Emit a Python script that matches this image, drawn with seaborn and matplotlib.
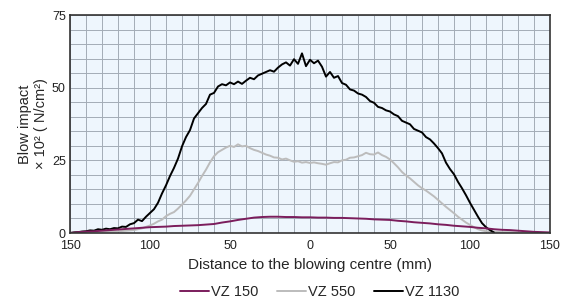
import numpy as np
import pandas as pd
import seaborn as sns
import matplotlib
matplotlib.use("Agg")
import matplotlib.pyplot as plt
from matplotlib.ticker import MultipleLocator, FixedLocator, FixedFormatter

# ---------------- data ----------------
# VZ 1130 (black)
x_1130 = [-150, -147.5, -145, -142.5, -140, -137.5, -135, -132.5, -130, -127.5,
          -125, -122.5, -120, -117.5, -115, -112.5, -110, -107.5, -105, -102.5,
          -100, -97.5, -95, -92.5, -90, -87.5, -85, -82.5, -80, -77.5,
          -75, -72.5, -70, -67.5, -65, -62.5, -60, -57.5, -55, -52.5,
          -50, -47.5, -45, -42.5, -40, -37.5, -35, -32.5, -30, -27.5,
          -25, -22.5, -20, -17.5, -15, -12.5, -10, -7.5, -5, -2.5,
          0, 2.5, 5, 7.5, 10, 12.5, 15, 17.5, 20, 22.5,
          25, 27.5, 30, 32.5, 35, 37.5, 40, 42.5, 45, 47.5,
          50, 52.5, 55, 57.5, 60, 62.5, 65, 67.5, 70, 72.5,
          75, 77.5, 80, 82.5, 85, 87.5, 90, 92.5, 95, 97.5,
          100, 102.5, 105, 107.5, 110, 112.5, 115]
y_1130 = [0.0, 0.2, 0.3, 0.5, 0.6, 0.9, 0.8, 1.3, 1.1, 1.5,
          1.3, 1.7, 1.6, 2.2, 2.1, 3.0, 3.4, 4.6, 4.1, 5.6,
          6.9, 8.2, 10.4, 13.6, 16.4, 19.6, 22.4, 25.6, 29.8, 33.0,
          35.4, 39.4, 41.2, 43.0, 44.4, 47.6, 48.2, 50.4, 51.2, 50.8,
          51.8, 51.2, 52.1, 51.3, 52.4, 53.4, 52.9, 54.2, 54.8, 55.4,
          56.0, 55.5, 56.9, 58.0, 58.7, 57.6, 59.8, 58.2, 61.8, 57.4,
          59.6, 58.4, 59.3, 57.2, 53.8, 55.4, 53.4, 54.0, 51.6, 51.0,
          49.4, 49.0, 48.0, 47.6, 46.8, 45.4, 44.8, 43.4, 43.0, 42.2,
          41.8, 40.8, 40.2, 38.6, 38.0, 37.4, 35.8, 35.2, 34.6, 33.0,
          32.2, 30.8, 29.2, 27.4, 24.2, 22.0, 20.2, 17.6, 15.4, 13.0,
          10.4, 8.0, 5.6, 3.4, 2.0, 1.0, 0.2]

# VZ 550 (grey)
x_550 = [-150, -145, -140, -135, -130, -125, -120, -115, -110, -105,
         -100, -97.5, -95, -92.5, -90, -87.5, -85, -82.5, -80, -77.5,
         -75, -72.5, -70, -67.5, -65, -62.5, -60, -57.5, -55, -52.5,
         -50, -47.5, -45, -42.5, -40, -37.5, -35, -32.5, -30, -27.5,
         -25, -22.5, -20, -17.5, -15, -12.5, -10, -7.5, -5, -2.5,
         0, 2.5, 5, 7.5, 10, 12.5, 15, 17.5, 20, 22.5,
         25, 27.5, 30, 32.5, 35, 37.5, 40, 42.5, 45, 47.5,
         50, 52.5, 55, 57.5, 60, 62.5, 65, 67.5, 70, 72.5,
         75, 77.5, 80, 82.5, 85, 87.5, 90, 92.5, 95, 97.5,
         100, 102.5, 105, 107.5, 110, 115, 120, 125, 130, 135,
         140, 145, 150]
y_550 = [0.0, 0.1, 0.2, 0.3, 0.4, 0.5, 0.6, 0.8, 1.0, 1.6,
         2.6, 3.2, 4.0, 4.6, 5.8, 6.6, 7.2, 8.4, 9.8, 11.2,
         12.8, 15.0, 17.2, 19.6, 21.8, 24.3, 26.4, 27.8, 28.6, 29.4,
         30.0, 29.6, 30.5, 29.8, 30.0, 29.2, 28.6, 28.2, 27.6, 27.0,
         26.6, 26.0, 25.9, 25.3, 25.6, 25.0, 24.5, 24.7, 24.2, 24.4,
         24.1, 24.3, 24.0, 23.8, 23.5, 24.0, 24.4, 24.3, 25.0, 25.2,
         25.9, 26.0, 26.4, 26.8, 27.6, 27.1, 27.0, 27.7, 26.8, 26.2,
         25.3, 24.0, 22.6, 21.0, 19.8, 18.8, 17.6, 16.4, 15.4, 14.6,
         13.6, 12.6, 11.4, 10.2, 9.0, 7.9, 6.8, 5.6, 4.6, 3.6,
         2.8, 2.0, 1.3, 0.9, 0.6, 0.4, 0.3, 0.3, 0.2, 0.1,
         0.1, 0.0, 0.0]

# VZ 150 (purple)
x_150 = [-150, -145, -140, -135, -130, -125, -120, -115, -110, -105,
         -100, -95, -90, -85, -80, -75, -70, -65, -60, -55,
         -50, -45, -40, -35, -30, -25, -20, -15, -10, -5,
         0, 5, 10, 15, 20, 25, 30, 35, 40, 45,
         50, 55, 60, 65, 70, 75, 80, 85, 90, 95,
         100, 105, 110, 115, 120, 125, 130, 135, 140, 145, 150]
y_150 = [0.0, 0.3, 0.5, 0.6, 0.8, 1.0, 1.2, 1.4, 1.6, 1.8,
         2.0, 2.1, 2.2, 2.4, 2.5, 2.6, 2.7, 2.9, 3.1, 3.6,
         4.0, 4.5, 4.9, 5.3, 5.5, 5.6, 5.6, 5.5, 5.5, 5.4,
         5.4, 5.3, 5.3, 5.2, 5.2, 5.1, 5.0, 4.9, 4.7, 4.6,
         4.5, 4.2, 4.0, 3.7, 3.5, 3.3, 3.0, 2.8, 2.5, 2.3,
         2.1, 1.8, 1.6, 1.3, 1.1, 1.0, 0.8, 0.6, 0.4, 0.3, 0.2]

series_names = ["VZ 150", "VZ 550", "VZ 1130"]
series_colors = ["#7b1d5c", "#bcbcbc", "#000000"]
x_ticks = [-150, -100, -50, 0, 50, 100, 150]
x_tick_labels = ["150", "100", "50", "0", "50", "100", "150"]
y_ticks = [0, 25, 50, 75]

# ---------------- plotting ----------------
sns.set_style("white")
plt.rcParams["font.family"] = ["Liberation Sans", "DejaVu Sans"]

fig = plt.figure(figsize=(5.71, 3.0), dpi=100)
ax = fig.add_axes([0.1226, 0.2233, 0.8406, 0.7267])
ax.set_facecolor("#eef6fd")

data = {
    "VZ 150": (x_150, y_150),
    "VZ 550": (x_550, y_550),
    "VZ 1130": (x_1130, y_1130),
}
for name in ["VZ 550", "VZ 1130", "VZ 150"]:
    xs, ys = data[name]
    df = pd.DataFrame({"x": xs, "y": ys})
    color = series_colors[series_names.index(name)]
    sns.lineplot(data=df, x="x", y="y", ax=ax, color=color, linewidth=1.4,
                 estimator=None, sort=False, label=name)

ax.set_xlim(-150, 150)
ax.set_ylim(0, 75)
ax.xaxis.set_major_locator(FixedLocator(x_ticks))
ax.xaxis.set_major_formatter(FixedFormatter(x_tick_labels))
ax.xaxis.set_minor_locator(MultipleLocator(10))
ax.yaxis.set_major_locator(FixedLocator(y_ticks))
ax.yaxis.set_minor_locator(MultipleLocator(5))
ax.grid(True, which="both", color="#a3acb6", linewidth=0.7)
ax.set_axisbelow(True)
ax.tick_params(which="both", length=0, labelsize=9, colors="#222222")
ax.tick_params(axis="x", pad=5)
ax.tick_params(axis="y", pad=3)
for s in ax.spines.values():
    s.set_visible(True)
    s.set_color("#333333")
    s.set_linewidth(1.2)

ax.set_xlabel("Distance to the blowing centre (mm)", fontsize=11, labelpad=4)
ax.set_ylabel("Blow impact\n× 10² ( N/cm²)", fontsize=10.5, labelpad=3,
              multialignment="center")

h, l = ax.get_legend_handles_labels()
order = [l.index(n) for n in series_names]
ax.legend([h[i] for i in order], [l[i] for i in order],
          loc="center", bbox_to_anchor=(0.52, -0.272), ncol=3,
          frameon=False, fontsize=10.5, handlelength=2.0, handletextpad=0.1,
          columnspacing=1.3, borderaxespad=0, borderpad=0)

fig.savefig("out.png", dpi=100)
